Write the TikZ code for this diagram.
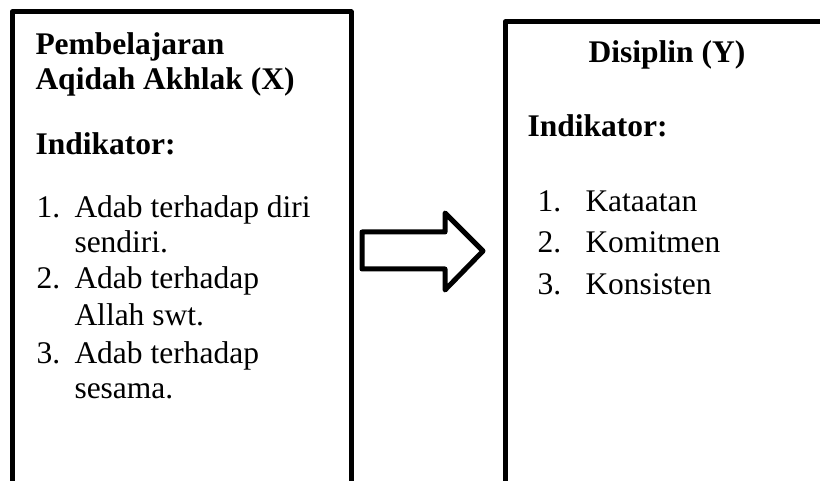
\documentclass[tikz,border=0pt]{standalone}
\usepackage{fontspec}
\setmainfont{Liberation Serif}
\tikzset{
	txt/.style={anchor=base west, inner sep=0pt, font=\fontsize{31.5}{36}\selectfont},
	btxt/.style={txt, font=\fontsize{31.5}{36}\selectfont\bfseries},
}

\begin{document}
\begin{tikzpicture}[x=1pt,y=-1pt,line width=5pt,line join=round]
\useasboundingbox (0,0) rectangle (820,481);

% kotak X
\draw (12,500) -- (12,12) -- (351,12) -- (351,500);
\node[btxt] (judulx1) at (33,55) {Pembelajaran};
\node[btxt] (judulx2) at (33,90) {Aqidah Akhlak (X)};
\node[btxt] (indx) at (33,155) {Indikator:};
\node[txt] (nx1) at (34,218) {1.};
\node[txt] (x1a) at (72,218) {Adab terhadap diri};
\node[txt] (x1b) at (72,253) {sendiri.};
\node[txt] (nx2) at (34,289) {2.};
\node[txt] (x2a) at (72,289) {Adab terhadap};
\node[txt] (x2b) at (72,326) {Allah swt.};
\node[txt] (nx3) at (34,363) {3.};
\node[txt] (x3a) at (72,363) {Adab terhadap};
\node[txt] (x3b) at (72,399) {sesama.};

% panah
\coordinate (p1) at (362,232);
\coordinate (p2) at (445,232);
\coordinate (p3) at (445,213);
\coordinate (tip) at (483,251);
\coordinate (p4) at (445,290);
\coordinate (p5) at (445,269);
\coordinate (p6) at (362,269);
\draw (p1) -- (p2) -- (p3) -- (tip) -- (p4) -- (p5) -- (p6) -- cycle;

% kotak Y
\draw (505,500) -- (505,22) -- (835,22) -- (835,500);
\node[btxt,anchor=base] (juduly) at (667,63) {Disiplin (Y)};
\node[btxt] (indy) at (525,137) {Indikator:};
\node[txt] (ny1) at (535,212) {1.};
\node[txt] (y1) at (583,212) {Kataatan};
\node[txt] (ny2) at (535,253) {2.};
\node[txt] (y2) at (583,253) {Komitmen};
\node[txt] (ny3) at (535,295) {3.};
\node[txt] (y3) at (583,295) {Konsisten};
\end{tikzpicture}
\end{document}
